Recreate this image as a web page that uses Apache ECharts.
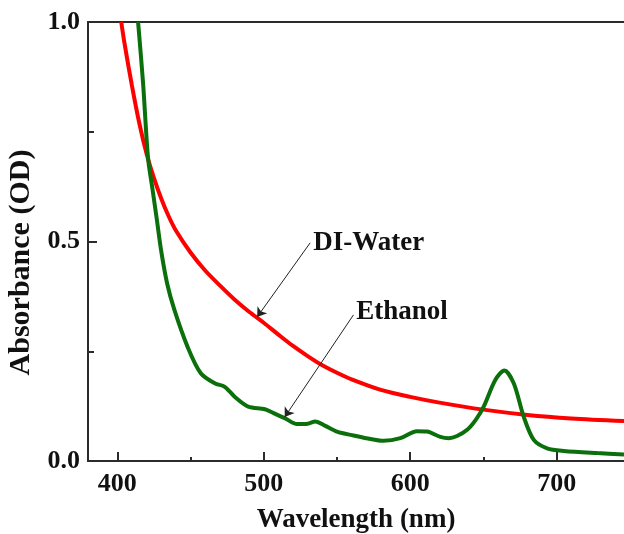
<!DOCTYPE html>
<html>
<head>
<meta charset="utf-8">
<script src="https://cdn.jsdelivr.net/npm/echarts@6/dist/echarts.min.js"></script>
<style>
  html, body { margin: 0; padding: 0; background: #fff; }
  #main { width: 624px; height: 534px; }
</style>
</head>
<body>
<div id="main"></div>
<script>
// absorbance spectra
const waterWl = [402.7, 405, 410, 415, 420, 425, 430, 435, 440, 450, 460, 470, 480, 490, 500, 510, 520, 530, 540, 550, 560, 580, 600, 620, 650, 680, 710, 746];
const waterOd = [1.0, 0.95, 0.855, 0.77, 0.70, 0.645, 0.598, 0.558, 0.525, 0.475, 0.434, 0.40, 0.368, 0.34, 0.315, 0.288, 0.262, 0.239, 0.218, 0.201, 0.186, 0.162, 0.146, 0.133, 0.117, 0.105, 0.097, 0.091];

const ethanolWl = [414.2, 417.6, 421, 424, 427, 430, 434, 439, 448, 457, 466.6, 473.4, 480.3, 489.4, 500.8, 506.7, 514.7, 522.7, 530, 535.2, 542, 550, 561.3, 570, 581.8, 593.3, 604.6, 611.5, 620.6, 626.3, 632, 638.9, 645, 650.2, 658.2, 664.3, 670.7, 677.5, 684.4, 693.5, 704.9, 727.7, 746];
const ethanolOd = [1.0, 0.861, 0.69, 0.62, 0.55, 0.478, 0.405, 0.344, 0.26, 0.20, 0.177, 0.169, 0.146, 0.124, 0.118, 0.109, 0.097, 0.084, 0.085, 0.090, 0.080, 0.067, 0.058, 0.052, 0.046, 0.052, 0.068, 0.067, 0.055, 0.052, 0.057, 0.071, 0.095, 0.124, 0.185, 0.206, 0.177, 0.101, 0.048, 0.029, 0.023, 0.018, 0.015];

const xMajor = [400, 500, 600, 700];
const xMinor = [400, 450, 500, 550, 600, 650, 700];
const yMajor = [0, 0.5, 1.0];

const font = '"Liberation Serif", "Times New Roman", serif';
const axisColor = '#2b2b2b';

function pairs(xs, ys) {
  return xs.map((x, i) => [x, ys[i]]);
}

const chart = echarts.init(document.getElementById('main'));

const baseX = {
  type: 'value',
  min: 380,
  max: 746,
  splitLine: { show: false },
  axisLine: { show: true, onZero: false, lineStyle: { color: axisColor, width: 2 } }
};

const option = {
  animation: false,
  backgroundColor: '#fff',
  grid: { left: 88, top: 22, right: 0, bottom: 73, outerBoundsMode: 'none' },
  xAxis: [
    // minor ticks
    Object.assign({}, baseX, {
      position: 'bottom',
      axisTick: { show: true, inside: true, length: 4, customValues: xMinor, lineStyle: { color: axisColor, width: 2 } },
      axisLabel: { show: false }
    }),
    // major ticks, labels, name
    Object.assign({}, baseX, {
      position: 'bottom',
      name: 'Wavelength (nm)',
      nameLocation: 'middle',
      nameGap: 46,
      nameTextStyle: { fontFamily: font, fontWeight: 'bold', fontSize: 27, color: '#111' },
      axisTick: { show: true, inside: true, length: 9, customValues: xMajor, lineStyle: { color: axisColor, width: 2 } },
      axisLabel: { show: true, customValues: xMajor, margin: 10, fontFamily: font, fontWeight: 'bold', fontSize: 26, color: '#111' }
    }),
    // top frame
    Object.assign({}, baseX, {
      position: 'top',
      axisTick: { show: false },
      axisLabel: { show: false }
    })
  ],
  yAxis: [
    {
      type: 'value',
      min: 0,
      max: 1,
      interval: 0.25,
      splitLine: { show: false },
      axisLine: { show: true, onZero: false, lineStyle: { color: axisColor, width: 2 } },
      axisTick: { show: true, inside: true, length: 6, lineStyle: { color: axisColor, width: 2 } },
      axisLabel: { show: false }
    },
    {
      type: 'value',
      min: 0,
      max: 1,
      position: 'left',
      splitLine: { show: false },
      name: 'Absorbance (OD)',
      nameLocation: 'middle',
      nameGap: 44,
      nameRotate: 90,
      nameTextStyle: { fontFamily: font, fontWeight: 'bold', fontSize: 30, color: '#111', padding: [0, 42, 0, 0] },
      axisLine: { show: false },
      axisTick: { show: true, inside: true, length: 9, customValues: yMajor, lineStyle: { color: axisColor, width: 2 } },
      axisLabel: {
        show: true, customValues: yMajor, margin: 8,
        fontFamily: font, fontWeight: 'bold', fontSize: 26, color: '#111',
        formatter: v => v.toFixed(1)
      }
    }
  ],
  series: [
    {
      name: 'DI-Water',
      type: 'line',
      smooth: 0.3,
      showSymbol: false,
      xAxisIndex: 0,
      yAxisIndex: 0,
      clip: true,
      lineStyle: { color: '#ff0000', width: 4 },
      data: pairs(waterWl, waterOd),
      markLine: {
        silent: true,
        symbol: ['none', 'arrow'],
        symbolSize: 9,
        lineStyle: { color: '#222', width: 1, type: 'solid' },
        label: { show: false },
        data: [[{ coord: [531.7, 0.497] }, { coord: [495.5, 0.328] }]]
      },
      markPoint: {
        silent: true,
        symbol: 'circle',
        symbolSize: 0,
        label: { show: true, position: 'right', distance: 2, formatter: 'DI-Water', fontFamily: font, fontWeight: 'bold', fontSize: 27, color: '#111' },
        data: [{ coord: [532.5, 0.497] }]
      }
    },
    {
      name: 'Ethanol',
      type: 'line',
      smooth: 0.3,
      showSymbol: false,
      xAxisIndex: 0,
      yAxisIndex: 0,
      clip: true,
      lineStyle: { color: '#0b700b', width: 4 },
      data: pairs(ethanolWl, ethanolOd),
      markLine: {
        silent: true,
        symbol: ['none', 'arrow'],
        symbolSize: 9,
        lineStyle: { color: '#222', width: 1, type: 'solid' },
        label: { show: false },
        data: [[{ coord: [561.3, 0.333] }, { coord: [514.3, 0.100] }]]
      },
      markPoint: {
        silent: true,
        symbol: 'circle',
        symbolSize: 0,
        label: { show: true, position: 'right', distance: 2, formatter: 'Ethanol', fontFamily: font, fontWeight: 'bold', fontSize: 27, color: '#111' },
        data: [{ coord: [561.8, 0.339] }]
      }
    }
  ]
};

chart.setOption(option);
</script>
</body>
</html>
